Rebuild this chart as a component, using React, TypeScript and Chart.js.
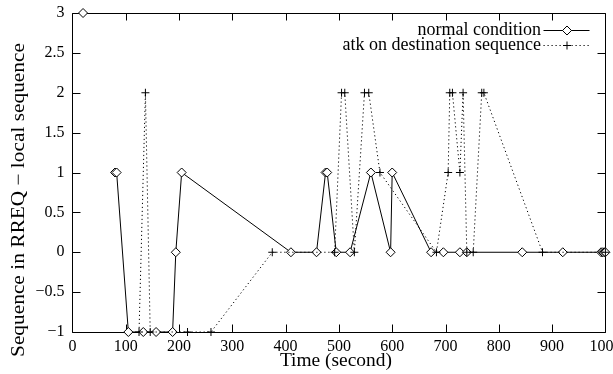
import React, { useEffect, useRef } from 'react';
import { Chart, registerables } from 'chart.js';

Chart.register(...registerables);

// ---- data ----
const normalTime = [20, 50, 80, 83, 105, 133, 157, 188, 194, 205, 410, 458, 475, 478, 495, 521, 560, 597, 600, 673, 696, 727, 740, 844, 920, 992, 995, 998, 1000];
const normalSeq = [3, null, 1, 1, -1, -1, -1, -1, 0, 1, 0, 0, 1, 1, 0, 0, 1, 0, 1, 0, 0, 0, 0, 0, 0, 0, 0, 0, 0];

const attackTime = [125, 137, 146, 216, 260, 375, 492, 505, 511, 529, 548, 556, 577, 683, 705, 708, 713, 727, 733, 740, 752, 768, 772, 882, 1000];
const attackSeq = [-1, 2, -1, -1, -1, 0, 0, 2, 2, 0, 2, 2, 1, 0, 1, 2, 2, 1, 2, 0, 0, 2, 2, 0, 0];

const xTicks = [0, 100, 200, 300, 400, 500, 600, 700, 800, 900, 1000];
const yTicks = [-1, -0.5, 0, 0.5, 1, 1.5, 2, 2.5, 3];

const seriesNames = ['normal condition', 'atk on destination sequence'];
const xTitle = 'Time (second)';
const yTitle = 'Sequence in RREQ \u2212 local sequence';

const FONT = '"Liberation Serif", "DejaVu Serif", serif';

function drawDiamond(ctx: CanvasRenderingContext2D, x: number, y: number, r: number) {
  ctx.save();
  ctx.beginPath();
  ctx.moveTo(x - r, y);
  ctx.lineTo(x, y - r);
  ctx.lineTo(x + r, y);
  ctx.lineTo(x, y + r);
  ctx.closePath();
  ctx.fillStyle = '#fff';
  ctx.fill();
  ctx.stroke();
  ctx.restore();
}

function drawPlus(ctx: CanvasRenderingContext2D, x: number, y: number, r: number) {
  ctx.beginPath();
  ctx.moveTo(x - r, y);
  ctx.lineTo(x + r, y);
  ctx.moveTo(x, y - r);
  ctx.lineTo(x, y + r);
  ctx.stroke();
}

// draw text horizontally stretched to a given length (gnuplot's font is wider)
function stretchedText(ctx: CanvasRenderingContext2D, text: string, x: number, y: number, length: number) {
  const w = ctx.measureText(text).width;
  const s = length / w;
  ctx.save();
  ctx.translate(x, y);
  ctx.scale(s, 1);
  ctx.fillText(text, 0, 0);
  ctx.restore();
}

const framePlugin = {
  id: 'gnuplotFrame',
  beforeDatasetsDraw(chart: any) {
    const ctx = chart.ctx as CanvasRenderingContext2D;
    const { left, right, top, bottom } = chart.chartArea;
    const xs = chart.scales.x;
    const ys = chart.scales.y;
    ctx.save();
    ctx.strokeStyle = '#000';
    ctx.lineWidth = 1;
    const L = Math.round(left) + 0.5;
    const R = Math.round(right) + 0.5;
    const T = Math.round(top) + 0.5;
    const B = Math.round(bottom) + 0.5;
    ctx.beginPath();
    ctx.rect(L, T, R - L, B - T);
    for (const v of xTicks) {
      const px = Math.round(xs.getPixelForValue(v)) + 0.5;
      ctx.moveTo(px, B);
      ctx.lineTo(px, B - 8);
      ctx.moveTo(px, T);
      ctx.lineTo(px, T + 7);
    }
    for (const v of yTicks) {
      const py = Math.round(ys.getPixelForValue(v)) + 0.5;
      ctx.moveTo(L, py);
      ctx.lineTo(L + 8, py);
      ctx.moveTo(R, py);
      ctx.lineTo(R - 8, py);
    }
    ctx.stroke();
    ctx.restore();
  },
  afterDraw(chart: any) {
    const ctx = chart.ctx as CanvasRenderingContext2D;
    const { left, right } = chart.chartArea;
    ctx.save();
    ctx.fillStyle = '#000';
    ctx.strokeStyle = '#000';
    ctx.lineWidth = 1;
    // axis titles
    ctx.font = `18px ${FONT}`;
    ctx.textAlign = 'center';
    ctx.textBaseline = 'middle';
    stretchedText(ctx, xTitle, (left + right) / 2 - 3, 361, 112);
    ctx.save();
    ctx.translate(19, 200);
    ctx.rotate(-Math.PI / 2);
    stretchedText(ctx, yTitle, 0, 0, 314);
    ctx.restore();

    // legend (gnuplot style: text right-aligned, sample on the right)
    const textRight = 541;
    const x0 = 543.5;
    const x1 = 589.5;
    const mx = 567;
    const rows = [30, 45];
    ctx.textAlign = 'right';
    ctx.font = `18px ${FONT}`;
    seriesNames.forEach((name, i) => {
      const y = rows[i];
      ctx.fillStyle = '#000';
      ctx.fillText(name, textRight, y);
      const yy = Math.round(y) + 0.5;
      ctx.beginPath();
      if (i === 1) ctx.setLineDash([1.2, 2.8]);
      ctx.moveTo(x0, yy);
      ctx.lineTo(x1, yy);
      ctx.stroke();
      ctx.setLineDash([]);
      if (i === 0) drawDiamond(ctx, mx, yy, 4.5);
      else drawPlus(ctx, mx, yy, 4);
    });
    ctx.restore();
  },
};

export default function App() {
  const ref = useRef<HTMLCanvasElement | null>(null);

  useEffect(() => {
    document.body.style.margin = '0';
    const canvas = ref.current;
    if (!canvas) return;

    const normalData = normalTime.map((t, i) => ({ x: t, y: normalSeq[i] }));
    const attackData = attackTime.map((t, i) => ({ x: t, y: attackSeq[i] }));

    const chart = new Chart(canvas, {
      type: 'line',
      data: {
        datasets: [
          {
            label: seriesNames[0],
            data: normalData as any,
            borderColor: '#000',
            borderWidth: 1,
            backgroundColor: '#fff',
            pointStyle: 'rectRot',
            pointRadius: 4.5,
            pointBorderWidth: 1,
            pointBorderColor: '#000',
            pointBackgroundColor: '#fff',
            spanGaps: false,
            tension: 0,
            clip: false as any,
            order: 2,
          },
          {
            label: seriesNames[1],
            data: attackData as any,
            borderColor: '#000',
            borderWidth: 1,
            borderDash: [1.2, 2.8],
            pointStyle: 'cross',
            pointRadius: 4,
            pointBorderWidth: 1,
            pointBorderColor: '#000',
            tension: 0,
            clip: false as any,
            order: 1,
          },
        ],
      },
      options: {
        responsive: false,
        animation: false,
        devicePixelRatio: 1,
        layout: { padding: { top: 13, right: 7.6, left: 0, bottom: 0 } },
        plugins: {
          legend: { display: false },
          tooltip: { enabled: false },
        },
        scales: {
          x: {
            type: 'linear',
            min: 0,
            max: 1000,
            grid: { display: false, drawTicks: false },
            border: { display: false },
            afterBuildTicks: (scale: any) => {
              scale.ticks = xTicks.map((v) => ({ value: v }));
            },
            ticks: {
              autoSkip: false,
              maxRotation: 0,
              padding: 5,
              color: '#000',
              font: { family: FONT, size: 16 },
              callback: (v: any) => String(v),
            },
            afterFit: (scale: any) => {
              scale.height = 374 - 332;
              scale.paddingLeft = 0;
              scale.paddingRight = 0;
            },
          },
          y: {
            type: 'linear',
            min: -1,
            max: 3,
            grid: { display: false, drawTicks: false },
            border: { display: false },
            afterBuildTicks: (scale: any) => {
              scale.ticks = yTicks.map((v) => ({ value: v }));
            },
            ticks: {
              autoSkip: false,
              padding: 8,
              color: '#000',
              font: { family: FONT, size: 16 },
              callback: (v: any) => String(v).replace('-', '\u2212'),
            },
            afterFit: (scale: any) => {
              scale.width = 72.4;
              scale.paddingTop = 0;
              scale.paddingBottom = 0;
            },
          },
        },
      },
      plugins: [framePlugin],
    });

    return () => {
      chart.destroy();
    };
  }, []);

  return (
    <div style={{ width: 613, height: 374, overflow: 'hidden', background: '#fff' }}>
      <canvas ref={ref} width={613} height={374} style={{ display: 'block' }} />
    </div>
  );
}
